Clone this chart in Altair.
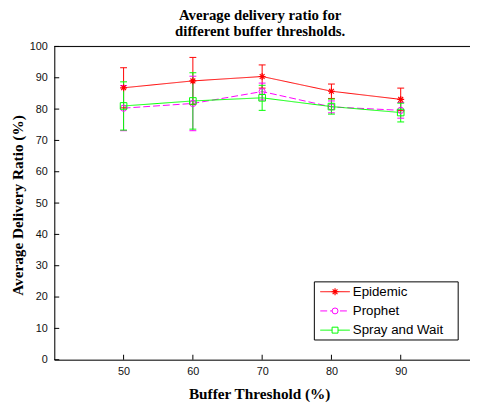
import altair as alt
import pandas as pd

THRESH = [50, 60, 70, 80, 90]
SERIES = ["Epidemic", "Prophet", "Spray and Wait"]
COLORS = ["#ff0000", "#ff00ff", "#00ff00"]
ASTERISK = "M-1,0L1,0M0,-1L0,1M-0.7,-0.7L0.7,0.7M-0.7,0.7L0.7,-0.7"
SHAPES = [ASTERISK, "circle", "square"]
DASHES = [[1, 0], [7, 3], [1, 0]]

EPIDEMIC = [86.8, 89.0, 90.4, 85.7, 83.1]
EPIDEMIC_ERR = [6.4, 7.5, 3.7, 2.3, 3.6]
PROPHET = [80.3, 81.8, 85.6, 80.7, 79.6]
PROPHET_ERR = [7.2, 8.7, 2.7, 1.9, 2.5]
SPRAY = [81.0, 82.6, 83.6, 80.8, 78.9]
SPRAY_ERR = [7.7, 9.0, 4.0, 2.4, 3.0]

X_TICKS = [50, 60, 70, 80, 90]
Y_TICKS = [0, 10, 20, 30, 40, 50, 60, 70, 80, 90, 100]
X_DOMAIN = [40, 100]
Y_DOMAIN = [0, 100]

rows = []
for s, vals, errs in zip(SERIES, [EPIDEMIC, PROPHET, SPRAY], [EPIDEMIC_ERR, PROPHET_ERR, SPRAY_ERR]):
    for t, v, e in zip(THRESH, vals, errs):
        rows.append(dict(series=s, thresh=t, value=v, lo=v - e, hi=v + e))
df = pd.DataFrame(rows)

W, H = 422, 318
SANS = "Liberation Sans"
SERIF = "Liberation Serif"

xs = alt.Scale(domain=X_DOMAIN, nice=False, zero=False)
ys = alt.Scale(domain=Y_DOMAIN, nice=False, zero=False)
color = alt.Color("series:N", scale=alt.Scale(domain=SERIES, range=COLORS), legend=None)
dash = alt.StrokeDash("series:N", scale=alt.Scale(domain=SERIES, range=DASHES), legend=None)

x_axis = alt.Axis(values=X_TICKS, title="Buffer Threshold (%)", grid=False, ticks=False, orient="bottom",
                  domainColor="black", domainWidth=1, labelFont=SANS, labelFontSize=11,
                  labelColor="#111", labelPadding=6, titleFont=SERIF, titleFontSize=15.5,
                  titleFontWeight="bold", titleColor="black", titleX=208, titleY=34,
                  titleBaseline="middle", labelOverlap=False)
y_axis = alt.Axis(values=Y_TICKS, tickCount=11, title="Average Delivery Ratio (%)", grid=False, ticks=False,
                  orient="left", domainColor="black", domainWidth=1, labelFont=SANS, labelFontSize=11,
                  labelColor="#111", labelPadding=7, titleFont=SERIF, titleFontSize=15.5,
                  titleFontWeight="bold", titleColor="black", titleX=-37, titleY=161,
                  titleAngle=-90, titleAlign="center", titleBaseline="middle", labelOverlap=False)


def XQ(field):
    return alt.X(field, scale=xs, axis=x_axis)


def YQ(field):
    return alt.Y(field, scale=ys, axis=y_axis)


lines = alt.Chart(df).mark_line(strokeWidth=1).encode(
    x=XQ("thresh:Q"), y=YQ("value:Q"), color=color, strokeDash=dash, order="thresh:Q")

top_line = alt.Chart(pd.DataFrame({"v": [Y_DOMAIN[1]]})).mark_rule(color="black", strokeWidth=1).encode(
    y=YQ("v:Q"))

xt = alt.Chart(pd.DataFrame({"thresh": X_TICKS, "value": [Y_DOMAIN[0]] * len(X_TICKS)})).mark_tick(
    orient="vertical", size=5, thickness=1, color="black", opacity=1, yOffset=-2.5).encode(
    x=XQ("thresh:Q"), y=YQ("value:Q"))
yt = alt.Chart(pd.DataFrame({"value": Y_TICKS, "thresh": [X_DOMAIN[0]] * len(Y_TICKS)})).mark_tick(
    orient="horizontal", size=5, thickness=1, color="black", opacity=1, xOffset=2.5).encode(
    y=YQ("value:Q"), x=XQ("thresh:Q"))

err = alt.Chart(df).mark_rule(strokeWidth=1).encode(
    x=XQ("thresh:Q"), y=YQ("lo:Q"), y2="hi:Q", color=color)
cap_lo = alt.Chart(df).mark_tick(orient="horizontal", size=7, thickness=1, opacity=1).encode(
    x=XQ("thresh:Q"), y=YQ("lo:Q"), color=color)
cap_hi = alt.Chart(df).mark_tick(orient="horizontal", size=7, thickness=1, opacity=1).encode(
    x=XQ("thresh:Q"), y=YQ("hi:Q"), color=color)

p_epi = alt.Chart(df).transform_filter(alt.datum.series == SERIES[0]).mark_point(
    shape=ASTERISK, filled=False, size=49, opacity=1, strokeWidth=1.2, color=COLORS[0]).encode(
    x=XQ("thresh:Q"), y=YQ("value:Q"))
p_pro = alt.Chart(df).transform_filter(alt.datum.series == SERIES[1]).mark_point(
    shape="circle", filled=False, size=40, opacity=1, strokeWidth=1, color=COLORS[1]).encode(
    x=XQ("thresh:Q"), y=YQ("value:Q"))
p_spr = alt.Chart(df).transform_filter(alt.datum.series == SERIES[2]).mark_point(
    shape="square", filled=False, size=45, opacity=1, strokeWidth=1, color=COLORS[2]).encode(
    x=XQ("thresh:Q"), y=YQ("value:Q"))

layers = [lines, top_line, xt, yt, err, cap_lo, cap_hi, p_epi, p_pro, p_spr]

# legend (drawn inside the plot, lower right)
LEG_X0, LEG_X1, LEG_Y0, LEG_Y1 = 264, 410, 239, 298
LEG_ROW0, LEG_ROW_STEP = 249, 19.5
leg = pd.DataFrame({"series": SERIES})
layers.append(alt.Chart(pd.DataFrame({"a": [0]})).mark_rect(
    fill="white", stroke="black", strokeWidth=1).encode(
    x=alt.value(LEG_X0), x2=alt.value(LEG_X1), y=alt.value(LEG_Y0), y2=alt.value(LEG_Y1)))
for i, (s, c, shp) in enumerate(zip(SERIES, COLORS, SHAPES)):
    yy = alt.value(LEG_ROW0 + i * LEG_ROW_STEP)
    sub = alt.Chart(leg).transform_filter(alt.datum.series == s)
    layers.append(sub.mark_rule(strokeWidth=1, color=c, strokeDash=DASHES[i]).encode(
        x=alt.value(LEG_X0 + 6), x2=alt.value(LEG_X0 + 36), y=yy))
    layers.append(sub.mark_point(shape=shp, filled=False, size=36 if i else 49, opacity=1,
                                 fill="white" if i else "transparent",
                                 strokeWidth=1.2 if i == 0 else 1, color=c).encode(
        x=alt.value(LEG_X0 + 21), y=yy))
    layers.append(sub.mark_text(align="left", baseline="middle", font=SANS, fontSize=13.5,
                                color="black").encode(x=alt.value(LEG_X0 + 39), y=yy, text="series:N"))

chart = alt.layer(*layers).properties(
    width=W, height=H,
    padding={"left": 47, "top": 36, "right": 0, "bottom": 45},
    autosize=alt.AutoSizeParams(type="none"),
    title=alt.Title(["Average delivery ratio for", "different buffer thresholds."],
                    font=SERIF, fontSize=15, fontWeight="bold", color="black",
                    anchor="middle", frame="group", offset=8, lineHeight=15.5, dx=-2, dy=21,
                    baseline="bottom"),
).configure_view(stroke=None).configure(background="white")

chart.save("out.html", embed_options={"renderer": "svg", "actions": False})
